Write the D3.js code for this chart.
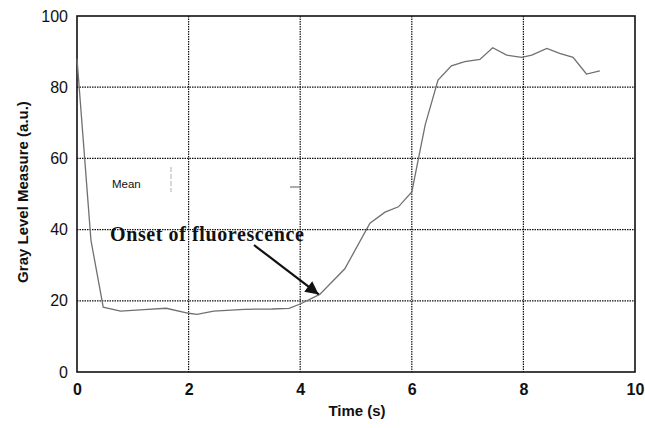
<!DOCTYPE html>
<html><head><meta charset="utf-8">
<script src="https://cdn.jsdelivr.net/npm/d3@7"></script>
<style>body{margin:0;background:#fff}</style>
</head><body>
<svg id="c" width="645" height="428"></svg>
<script>
const times = [0, 0.25, 0.47, 0.78, 1.2, 1.6, 2.0, 2.15, 2.45, 3.0, 3.5, 3.8, 4.0, 4.35, 4.8, 5.25, 5.52, 5.76, 6.0, 6.24, 6.47, 6.71, 6.95, 7.22, 7.45, 7.7, 7.97, 8.15, 8.42, 8.65, 8.89, 9.13, 9.37];
const grayLevel = [88, 37, 18.2, 17.1, 17.5, 17.9, 16.5, 16.2, 17.1, 17.6, 17.7, 17.9, 19.1, 21.8, 29, 41.8, 44.9, 46.4, 50.6, 69.4, 82, 86, 87.2, 87.8, 91.1, 89, 88.4, 89, 90.9, 89.5, 88.4, 83.7, 84.6];
const xTicks = [0, 2, 4, 6, 8, 10];
const yTicks = [0, 20, 40, 60, 80, 100];
const xTitle = "Time (s)";
const yTitle = "Gray Level Measure (a.u.)";
const annotation = "Onset of fluorescence";
const annotationTarget = [4.35, 21.8];
const meanLabel = "Mean";

const svg = d3.select("#c");
const x = d3.scaleLinear().domain([0, 10]).range([77, 635]);
const y = d3.scaleLinear().domain([0, 100]).range([372, 16]);

// grid
const g = svg.append("g");
g.selectAll(".vx").data(xTicks.filter(d => d > 0 && d < 10)).enter().append("line")
  .attr("x1", d => x(d)).attr("x2", d => x(d)).attr("y1", y(100)).attr("y2", y(0))
  .attr("stroke", "#111").attr("stroke-width", 1.2).attr("stroke-dasharray", "1.5,1");
g.selectAll(".hy").data(yTicks.filter(d => d > 0 && d < 100)).enter().append("line")
  .attr("x1", x(0)).attr("x2", x(10)).attr("y1", d => y(d)).attr("y2", d => y(d))
  .attr("stroke", "#111").attr("stroke-width", 1.2).attr("stroke-dasharray", "1.5,1");

// frame
svg.append("rect").attr("x", x(0)).attr("y", y(100)).attr("width", x(10) - x(0)).attr("height", y(0) - y(100))
  .attr("fill", "none").attr("stroke", "#111").attr("stroke-width", 1.6);

// axes
const xAxis = svg.append("g").attr("transform", `translate(0,${y(0)})`)
  .call(d3.axisBottom(x).tickValues(xTicks).tickSize(0).tickPadding(12).tickFormat(d3.format("d")));
xAxis.select(".domain").remove();
xAxis.selectAll("text").attr("font-family", "Liberation Sans, Arial, sans-serif").attr("font-size", 16).attr("font-weight", "bold").attr("fill", "#111");

const yAxis = svg.append("g").attr("transform", `translate(${x(0)},0)`)
  .call(d3.axisLeft(y).tickValues(yTicks).tickSize(0).tickPadding(9).tickFormat(d3.format("d")));
yAxis.select(".domain").remove();
yAxis.selectAll("text").attr("font-family", "Liberation Sans, Arial, sans-serif").attr("font-size", 16).attr("fill", "#111");

svg.append("text").attr("x", 357).attr("y", 416).attr("text-anchor", "middle")
  .attr("font-family", "Liberation Sans, Arial, sans-serif").attr("font-weight", "bold").attr("font-size", 15)
  .attr("fill", "#111").text(xTitle);
svg.append("text").attr("transform", "translate(28,192) rotate(-90)").attr("text-anchor", "middle")
  .attr("font-family", "Liberation Sans, Arial, sans-serif").attr("font-weight", "bold").attr("font-size", 15)
  .attr("fill", "#111").text(yTitle);

// faint marks
svg.append("line").attr("x1", 171).attr("x2", 171).attr("y1", 167).attr("y2", 192)
  .attr("stroke", "#ccc").attr("stroke-width", 1.5).attr("stroke-dasharray", "5,2");
svg.append("line").attr("x1", 290).attr("x2", 300).attr("y1", 187).attr("y2", 187)
  .attr("stroke", "#777").attr("stroke-width", 1.2);
svg.append("text").attr("x", 112).attr("y", 188)
  .attr("font-family", "Liberation Sans, Arial, sans-serif").attr("font-size", 11.5).attr("fill", "#111").text(meanLabel);

// data line
const line = d3.line().x((d, i) => x(times[i])).y(d => y(d));
svg.append("path").datum(grayLevel).attr("d", line)
  .attr("fill", "none").attr("stroke", "#707070").attr("stroke-width", 1.3);

// annotation
svg.append("text").attr("x", 110).attr("y", 241)
  .attr("font-family", "Liberation Serif, Times New Roman, serif").attr("font-weight", "bold").attr("font-size", 20)
  .attr("letter-spacing", 0.6).attr("fill", "#111").text(annotation);
svg.append("defs").append("marker").attr("id", "ah").attr("viewBox", "0 0 10 10").attr("refX", 10).attr("refY", 5)
  .attr("markerWidth", 8).attr("markerHeight", 6).attr("orient", "auto").attr("markerUnits", "strokeWidth")
  .append("path").attr("d", "M0,0 L10,5 L0,10 z").attr("fill", "#111");
svg.append("line").attr("x1", 254).attr("y1", 245).attr("x2", x(annotationTarget[0]) - 1).attr("y2", y(annotationTarget[1]))
  .attr("stroke", "#111").attr("stroke-width", 2.2).attr("marker-end", "url(#ah)");
</script>
</body></html>
